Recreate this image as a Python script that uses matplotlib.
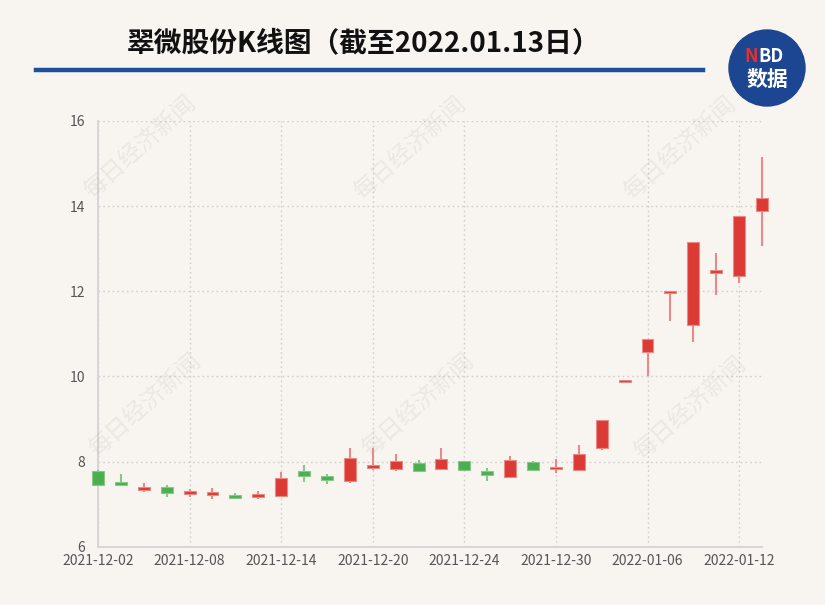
import matplotlib
matplotlib.use('Agg')
import matplotlib.pyplot as plt
from matplotlib.patches import Rectangle, Ellipse
from matplotlib.lines import Line2D

plt.rcParams['font.family'] = ['Noto Sans CJK SC', 'DejaVu Sans']

dates = ['2021-12-02', '2021-12-03', '2021-12-06', '2021-12-07', '2021-12-08',
         '2021-12-09', '2021-12-10', '2021-12-13', '2021-12-14', '2021-12-15',
         '2021-12-16', '2021-12-17', '2021-12-20', '2021-12-21', '2021-12-22',
         '2021-12-23', '2021-12-24', '2021-12-27', '2021-12-28', '2021-12-29',
         '2021-12-30', '2021-12-31', '2022-01-04', '2022-01-05', '2022-01-06',
         '2022-01-07', '2022-01-10', '2022-01-11', '2022-01-12', '2022-01-13']
opens = [7.78, 7.51, 7.33, 7.40, 7.24, 7.21, 7.22, 7.17, 7.20, 7.77,
         7.66, 7.55, 7.86, 7.82, 7.96, 7.82, 8.01, 7.77, 7.64, 8.00,
         7.82, 7.80, 8.32, 9.87, 10.57, 11.95, 11.20, 12.42, 12.36, 13.88]
closes = [7.45, 7.46, 7.41, 7.25, 7.31, 7.28, 7.14, 7.24, 7.62, 7.66,
          7.56, 8.08, 7.90, 8.02, 7.77, 8.06, 7.80, 7.69, 8.03, 7.80,
          7.85, 8.17, 8.98, 9.88, 10.87, 11.97, 13.16, 12.50, 13.76, 14.19]
highs = [7.79, 7.70, 7.49, 7.44, 7.36, 7.38, 7.27, 7.31, 7.75, 7.92,
         7.70, 8.33, 8.31, 8.18, 8.03, 8.31, 8.02, 7.86, 8.14, 8.01,
         8.07, 8.38, 8.98, 9.88, 10.87, 11.97, 13.16, 12.89, 13.76, 15.15]
lows = [7.45, 7.45, 7.28, 7.17, 7.17, 7.13, 7.14, 7.12, 7.16, 7.53,
        7.48, 7.50, 7.79, 7.77, 7.75, 7.80, 7.78, 7.55, 7.63, 7.79,
        7.74, 7.78, 8.26, 9.88, 10.00, 11.30, 10.81, 11.91, 12.20, 13.06]
yticks = [6, 8, 10, 12, 14, 16]

title = '翠微股份K线图（截至2022.01.13日）'
watermark = '每日经济新闻'

bg = '#f8f5f1'
up_body, up_wick = '#dc3b35', '#ea8a86'
dn_body, dn_wick = '#4cae4f', '#86c888'

W, H = 825, 605
fig = plt.figure(figsize=(8.25, 6.05), dpi=100, facecolor=bg)
ax = fig.add_axes([98 / W, 1 - 546.7 / H, (762 - 98) / W, (546.7 - 121) / H])
ax.set_facecolor(bg)

bw = 0.52
for i in range(len(dates)):
    o, c, h, l = opens[i], closes[i], highs[i], lows[i]
    up = c >= o
    ax.plot([i, i], [l, h], color=up_wick if up else dn_wick, lw=1.5,
            solid_capstyle='butt', zorder=3, clip_on=False)
    bottom = min(o, c)
    height = max(abs(c - o), 0.05)
    ax.add_patch(Rectangle((i - bw / 2, bottom), bw, height,
                           facecolor=up_body if up else dn_body,
                           edgecolor=up_wick if up else dn_wick, lw=0.8,
                           zorder=4, clip_on=False))

ax.set_xlim(0, len(dates) - 1)
ax.set_ylim(6, 16)
tick_idx = list(range(0, len(dates), 4))
ax.set_xticks(tick_idx)
ax.set_xticklabels([dates[i] for i in tick_idx])
ax.set_yticks(yticks)
ax.set_yticklabels([str(v) for v in yticks])
ax.tick_params(length=0, labelsize=10, labelcolor='#555555')
ax.tick_params(axis='x', pad=5)
ax.tick_params(axis='y', pad=9)

ax.grid(True, color='#cfcfcf', lw=1.0, linestyle=(0, (1.2, 2.2)))
ax.set_axisbelow(True)
for s in ['top', 'right']:
    ax.spines[s].set_visible(False)
for s in ['left', 'bottom']:
    ax.spines[s].set_color('#d6d6d6')
    ax.spines[s].set_linewidth(1.4)

# title and blue rule
fig.text(364 / W, 1 - 43 / H, title, ha='center', va='center',
         fontsize=20, fontweight='bold', color='#111111')
fig.add_artist(Line2D([36 / W, 703 / W], [1 - 70 / H, 1 - 70 / H],
                      transform=fig.transFigure, color='#1d4f9b', lw=3.2))

# NBD logo
fig.add_artist(Ellipse((767 / W, 1 - 68 / H), 76 / W, 76 / H,
                       transform=fig.transFigure, color='#1c4592'))
fig.text(758 / W, 1 - 56 / H, 'N', ha='right', va='center', fontsize=13,
         fontweight='bold', color='#e8302a')
fig.text(758 / W, 1 - 56 / H, 'BD', ha='left', va='center', fontsize=13,
         fontweight='bold', color='white')
fig.text(767 / W, 1 - 79 / H, '数据', ha='center', va='center', fontsize=15,
         fontweight='bold', color='white')

# watermarks
for x, y in [(140, 147), (410, 148), (680, 148), (145, 405), (418, 405), (690, 408)]:
    fig.text(x / W, 1 - y / H, watermark, ha='center', va='center', rotation=42,
             fontsize=17, color='#b0aaa4', alpha=0.18, zorder=0)

plt.savefig('out.png', dpi=100, facecolor=bg)
